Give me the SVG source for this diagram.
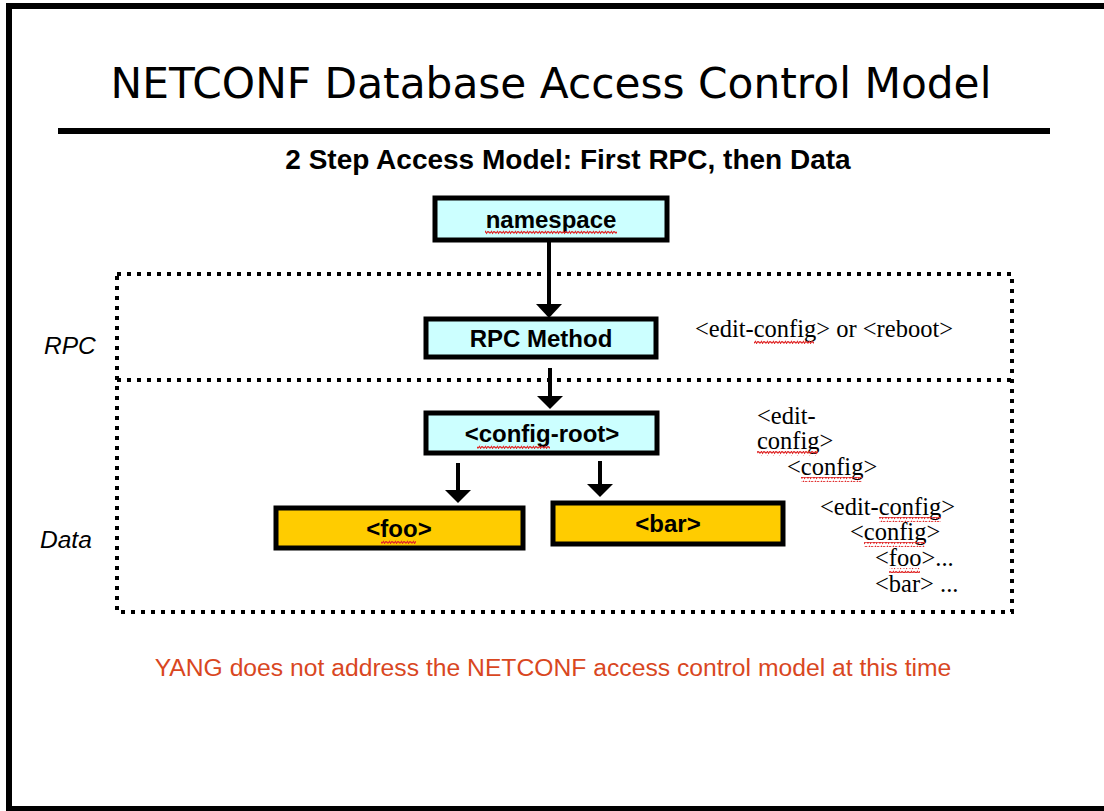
<svg xmlns="http://www.w3.org/2000/svg" width="1104" height="811" viewBox="0 0 1104 811">
  <style>
    .title { font-family: "DejaVu Sans", sans-serif; font-size: 42.3px; fill: #000; }
    .sub { font-family: "Liberation Sans", Arial, sans-serif; font-weight: bold; font-size: 28px; fill: #000; }
    .box-label { font-family: "Liberation Sans", Arial, sans-serif; font-weight: bold; font-size: 24px; fill: #000; text-anchor: middle; }
    .side { font-family: "Liberation Sans", Arial, sans-serif; font-style: italic; font-size: 24.5px; fill: #000; }
    .xml { font-family: "Liberation Serif", "Times New Roman", serif; font-size: 24.5px; fill: #000; }
    .note { font-family: "Liberation Sans", Arial, sans-serif; font-size: 24.7px; fill: #d9471f; }
    .cyan { fill: #ccffff; stroke: #000; stroke-width: 5; }
    .gold { fill: #ffcc00; stroke: #000; stroke-width: 5; }
    .dots { fill: none; stroke: #000; stroke-width: 4; stroke-dasharray: 4 6; }
    .shaft { stroke: #000; stroke-width: 4; fill: none; }
    .head { fill: #000; }
    .squig { fill: url(#wave); }
  </style>
  <defs>
    <!-- spell-check style wavy underline -->
    <pattern id="wave" width="6" height="5" patternUnits="userSpaceOnUse">
      <path d="M0 4 Q1.5 0.5 3 2.2 T6 0.8" fill="none" stroke="#e02828" stroke-width="1.4"/>
    </pattern>
  </defs>

  <!-- slide frame -->
  <rect x="9" y="6" width="1110" height="803" fill="#fff" stroke="#000" stroke-width="6"/>

  <!-- heading -->
  <text class="title" x="551" y="98" text-anchor="middle">NETCONF Database Access Control Model</text>
  <line x1="58" y1="131" x2="1050" y2="131" stroke="#000" stroke-width="6"/>
  <text class="sub" x="568" y="169" text-anchor="middle">2 Step Access Model: First RPC, then Data</text>

  <!-- dotted regions -->
  <g id="regions">
    <rect class="dots" x="117" y="274" width="895" height="338"/>
    <line class="dots" x1="117" y1="380" x2="1012" y2="380"/>
    <text class="side" x="44" y="354">RPC</text>
    <text class="side" x="40" y="548">Data</text>
  </g>

  <!-- connectors -->
  <g id="connectors">
    <line class="shaft" x1="549" y1="240" x2="549" y2="306"/>
    <polygon class="head" points="536,304 562,304 549,318"/>
    <line class="shaft" x1="550" y1="368" x2="550" y2="398"/>
    <polygon class="head" points="537,396 563,396 550,409"/>
    <line class="shaft" x1="458" y1="463" x2="458" y2="492"/>
    <polygon class="head" points="445,490 471,490 458,503"/>
    <line class="shaft" x1="600" y1="461" x2="600" y2="486"/>
    <polygon class="head" points="587,484 613,484 600,497"/>
  </g>

  <g id="namespace">
    <rect class="cyan" x="435" y="198" width="232" height="42"/>
    <text class="box-label" x="551" y="228">namespace</text>
    <rect class="squig" x="485" y="230" width="132" height="5"/>
  </g>

  <g id="rpc-method">
    <rect class="cyan" x="426" y="319" width="230" height="38"/>
    <text class="box-label" x="541" y="347">RPC Method</text>
  </g>

  <g id="config-root">
    <rect class="cyan" x="426" y="413" width="231" height="40"/>
    <text class="box-label" x="542" y="442">&lt;config-root&gt;</text>
    <rect class="squig" x="477" y="444" width="73" height="5"/>
  </g>

  <g id="foo">
    <rect class="gold" x="276" y="508" width="247" height="40"/>
    <text class="box-label" x="399" y="537">&lt;foo&gt;</text>
    <rect class="squig" x="381" y="539" width="35" height="5"/>
  </g>

  <g id="bar">
    <rect class="gold" x="553" y="503" width="230" height="41"/>
    <text class="box-label" x="668" y="532">&lt;bar&gt;</text>
  </g>

  <!-- example requests -->
  <g id="rpc-example">
    <text class="xml" x="695" y="337">&lt;edit-config&gt; or &lt;reboot&gt;</text>
    <rect class="squig" x="754" y="339" width="60" height="5"/>
  </g>

  <g id="config-example">
    <text class="xml" x="757" y="424">&lt;edit-</text>
    <text class="xml" x="757" y="449">config&gt;</text>
    <text class="xml" x="787" y="475">&lt;config&gt;</text>
    <rect class="squig" x="757" y="451" width="61" height="5"/>
    <rect class="squig" x="801" y="477" width="61" height="5"/>
  </g>

  <g id="data-example">
    <text class="xml" x="820" y="515">&lt;edit-config&gt;</text>
    <text class="xml" x="850" y="540">&lt;config&gt;</text>
    <text class="xml" x="875" y="566">&lt;foo&gt;...</text>
    <text class="xml" x="875" y="592">&lt;bar&gt; ...</text>
    <rect class="squig" x="879" y="517" width="62" height="5"/>
    <rect class="squig" x="864" y="542" width="61" height="5"/>
    <rect class="squig" x="889" y="568" width="31" height="5"/>
  </g>

  <text class="note" x="553" y="676" text-anchor="middle">YANG does not address the NETCONF access control model at this time</text>
</svg>
